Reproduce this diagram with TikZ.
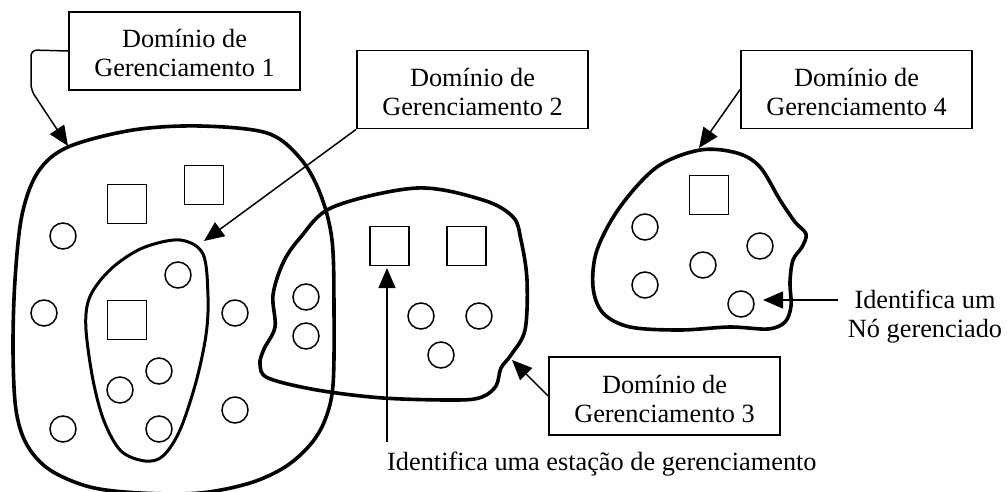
\documentclass[tikz,border=0pt]{standalone}
\usepackage{fontspec}
\setmainfont{Liberation Serif}
\usetikzlibrary{arrows.meta}
\begin{document}
\begin{tikzpicture}[x=1pt,y=-1pt,
  font=\fontsize{26.3}{29}\selectfont,
  dombox/.style={draw,line width=1.7pt,minimum width=231pt,minimum height=78pt,inner sep=0pt,align=center,text height=52pt,text depth=0pt},
  nodecirc/.style={draw,circle,line width=1.5pt,minimum size=26pt,inner sep=0pt},
  station/.style={draw,rectangle,line width=1.5pt,minimum size=39pt,inner sep=0pt},
  blob/.style={line width=3.6pt},
  callout/.style={line width=1.5pt,-{Triangle[length=20pt,width=17pt]}}]
\useasboundingbox (0,0) rectangle (1007,492);
\clip (0,0) rectangle (1007,492);

% domain outlines
\draw[blob] plot[smooth cycle,tension=0.55] coordinates {
 (68,147) (133,130) (200,126) (267,133) (300,158) (320,193) (332,240) (334,310) (333,385) (325,420) (310,445) (285,467) (250,483) (200,493) (140,493) (90,487) (50,470) (27,445) (16,410) (13,350) (15,280) (22,215) (38,172)};
\draw[line width=3pt] plot[smooth cycle,tension=0.55] coordinates {
 (180,240) (203,254) (208,297) (206,335) (196,382) (180,430) (163,456) (145,461) (121,451) (104,421) (93,380) (86,330) (88,302) (99,282) (118,263) (145,247)};
\draw[blob] plot[smooth cycle,tension=0.55] coordinates {
 (417,188) (483,200) (513,217) (521,240) (527,280) (525,330) (511,355) (501,368) (496,386) (482,397) (457,400) (383,398) (317,390) (268,378) (260,364) (264,349) (275,327) (273,295) (283,263) (300,238) (333,207)};
\draw[blob] plot[smooth cycle,tension=0.55] coordinates {
 (700,150) (737,153) (760,167) (780,200) (795,222) (806,234) (802,247) (793,260) (790,282) (791,306) (785,322) (768,329) (730,327) (680,330) (630,327) (603,313) (593,287) (597,250) (620,207) (657,167)};

% management stations
\node[station] (s1) at (127,204) {};
\node[station] (s2) at (204,185) {};
\node[station] (s3) at (127,320) {};
\node[station] (s4) at (389.5,246) {};
\node[station] (s5) at (466.5,246) {};
\node[station] (s6) at (709,195) {};

% managed nodes
\node[nodecirc] (c1) at (63,236) {};
\node[nodecirc] (c2) at (178,275) {};
\node[nodecirc] (c3) at (44,313) {};
\node[nodecirc] (c4) at (235,313) {};
\node[nodecirc] (c5) at (159,371) {};
\node[nodecirc] (c6) at (120,390) {};
\node[nodecirc] (c7) at (159,429) {};
\node[nodecirc] (c8) at (235,410) {};
\node[nodecirc] (c9) at (63,429) {};
\node[nodecirc] (c10) at (306,297) {};
\node[nodecirc] (c11) at (306,336) {};
\node[nodecirc] (c12) at (421,316) {};
\node[nodecirc] (c13) at (479,316) {};
\node[nodecirc] (c14) at (441,355) {};
\node[nodecirc] (c15) at (645,227) {};
\node[nodecirc] (c16) at (760,246) {};
\node[nodecirc] (c17) at (703,265) {};
\node[nodecirc] (c18) at (645,285) {};
\node[nodecirc] (c19) at (741,304) {};

% labels
\node[dombox] (b1) at (184.5,51) {Domínio de\\Gerenciamento 1};
\node[dombox] (b2) at (472.5,89.5) {Domínio de\\Gerenciamento 2};
\node[dombox] (b4) at (856.5,89.5) {Domínio de\\Gerenciamento 4};
\node[dombox] (b3) at (664.5,396) {Domínio de\\Gerenciamento 3};
\node[anchor=base west,inner sep=0pt] (lst) at (387,470) {Identifica uma estação de gerenciamento};
\begin{scope}
\clip (840,280) rectangle (1007,343);
\node[align=center,inner sep=0pt] (lnd) at (925,316.5) {Identifica um\\Nó gerenciado};
\end{scope}

% callout targets
\coordinate (t1) at (68,146);
\coordinate (t2) at (204,241);
\coordinate (t3) at (512,360);
\coordinate (t4) at (699,148);
\coordinate (tst) at (387,268);
\coordinate (fst) at (387,442);
\coordinate (tnd) at (763,300);
\coordinate (fnd) at (838,300);

% callouts
\draw[callout,rounded corners=6pt] (b1.west) -- (31,50) -- (31,90) -- (t1);
\draw[callout] (b2.south west) -- (t2);
\draw[callout] (b3.west) -- (t3);
\draw[callout] (b4.west) -- (t4);
\draw[callout] (fst) -- (tst);
\draw[callout] (fnd) -- (tnd);
\end{tikzpicture}
\end{document}
